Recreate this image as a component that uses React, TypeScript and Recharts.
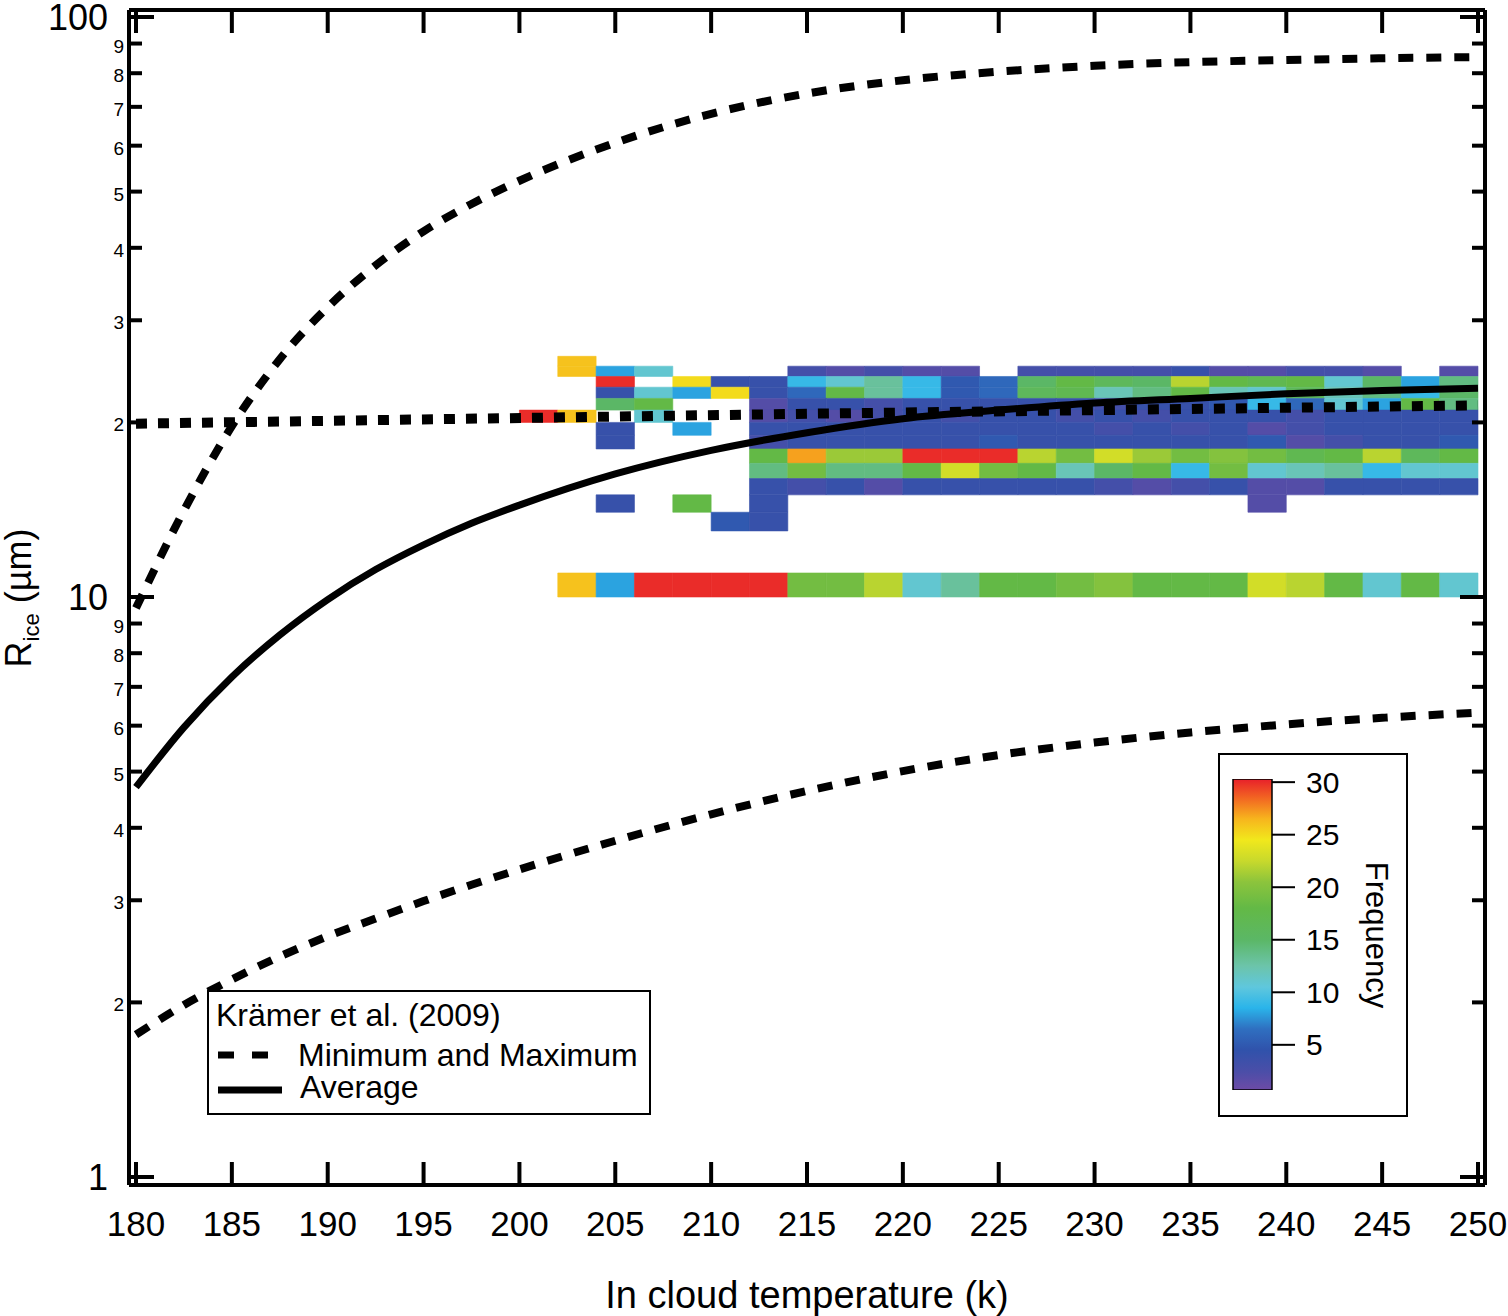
import React from "react";
import {
  ComposedChart,
  Line,
  XAxis,
  YAxis,
  ReferenceArea,
  BarChart,
  Bar,
} from "recharts";

const FONT = '"Liberation Sans", Arial, Helvetica, sans-serif';

// axis ticks
const xTicks = [180, 185, 190, 195, 200, 205, 210, 215, 220, 225, 230, 235, 240, 245, 250];
const yTicks = [1, 2, 3, 4, 5, 6, 7, 8, 9, 10, 20, 30, 40, 50, 60, 70, 80, 90, 100];
const freqTicks = [5, 10, 15, 20, 25, 30];

// Krämer et al. (2009) curves (K -> µm)
const curveTemps = [180, 182.5, 185, 187.5, 190, 192.5, 195, 197.5, 200, 205, 210, 215, 220, 225, 230, 235, 240, 245, 250];
const maxRadius = [9.57, 14.1, 19.7, 25.7, 31.6, 37.3, 42.7, 47.6, 52.2, 60.7, 68.1, 73.8, 77.8, 80.5, 82.4, 83.6, 84.3, 84.9, 85.3];
const minRadius = [1.76, 1.98, 2.19, 2.4, 2.6, 2.79, 2.99, 3.19, 3.39, 3.8, 4.22, 4.63, 5.01, 5.34, 5.61, 5.84, 6.03, 6.19, 6.32];
const avgRadius = [4.7, 5.96, 7.28, 8.6, 9.9, 11.15, 12.3, 13.4, 14.4, 16.3, 17.9, 19.2, 20.3, 21.0, 21.6, 22.0, 22.4, 22.7, 22.9];

// dotted line
const refTemps = [180, 215, 250];
const refRadius = [19.9, 20.7, 21.4];

// 2D histogram: temperature bin edges, one row per 1 µm radius bin
const tempEdges = [200, 202, 204, 206, 208, 210, 212, 214, 216, 218, 220, 222, 224, 226, 228, 230, 232, 234, 236, 238, 240, 242, 244, 246, 248, 250];
const n = null;
const row25 = [n, 26, n, n, n, n, n, n, n, n, n, n, n, n, n, n, n, n, n, n, n, n, n, n, n];
const row24 = [n, 26, 8, 11, n, n, n, 3, 2, 3, 2, 2, n, 3, 3, 3, 3, 4, 2, 2, 3, 3, 2, n, 2];
const row23 = [n, n, 30, n, 25, 4, 4, 9, 11, 13, 9, 5, 6, 15, 18, 16, 15, 22, 18, 17, 18, 11, 15, 8, 14];
const row22 = [n, n, 4, 11, 8, 25, 4, 6, 18, 13, 9, 5, 6, 16, 17, 12, 14, 18, 12, 11, 16, 12, 14, 9, 15];
const row21 = [n, n, 15, 18, n, n, 2, 4, 4, 3, 4, 4, 4, 4, 4, 3, 4, 4, 5, 9, 6, 11, 8, 18, 14];
const row20 = [30, 26, n, 11, n, n, 2, 3, 2, 3, 4, 3, 4, 4, 3, 4, 3, 4, 4, 4, 3, 4, 4, 4, 4];
const row19 = [n, n, 4, n, 8, n, 4, 4, 4, 4, 4, 4, 4, 4, 4, 3, 4, 3, 4, 2, 3, 4, 4, 4, 4];
const row18 = [n, n, 4, n, n, n, 3, 4, 4, 4, 4, 4, 5, 4, 4, 4, 4, 4, 4, 5, 2, 3, 4, 4, 5];
const row17 = [n, n, n, n, n, n, 18, 27, 21, 21, 30, 30, 30, 22, 19, 23, 21, 19, 20, 19, 17, 18, 22, 16, 18];
const row16 = [n, n, n, n, n, n, 14, 19, 14, 14, 18, 23, 19, 18, 12, 15, 18, 9, 19, 11, 12, 13, 9, 11, 11];
const row15 = [n, n, n, n, n, n, 4, 3, 4, 2, 4, 4, 4, 4, 4, 3, 2, 3, 4, 2, 2, 4, 4, 4, 4];
const row14 = [n, n, 4, n, 18, n, 4, n, n, n, n, n, n, n, n, n, n, n, n, 2, n, n, n, n, n];
const row13 = [n, n, n, n, n, 5, 4, n, n, n, n, n, n, n, n, n, n, n, n, n, n, n, n, n, n];
const row10 = [n, 26, 8, 30, 30, 30, 30, 19, 19, 22, 11, 13, 18, 18, 19, 20, 18, 18, 18, 23, 22, 18, 11, 18, 11];

const radiusRows = [
  { lo: 25, freq: row25 },
  { lo: 24, freq: row24 },
  { lo: 23, freq: row23 },
  { lo: 22, freq: row22 },
  { lo: 21, freq: row21 },
  { lo: 20, freq: row20 },
  { lo: 19, freq: row19 },
  { lo: 18, freq: row18 },
  { lo: 17, freq: row17 },
  { lo: 16, freq: row16 },
  { lo: 15, freq: row15 },
  { lo: 14, freq: row14 },
  { lo: 13, freq: row13 },
  { lo: 10, freq: row10 },
];

// colour bar range
const cbMin = 0.7;
const cbMax = 30.3;

// axis frame sits a few px outside the data range
const X_DOMAIN = [179.635, 250.365];
const Y_DOMAIN = [0.9687, 102.82];

const cmap: [number, string][] = [
  [0.7, "#6d4ba6"],
  [2.5, "#4a4ea8"],
  [4.5, "#3052ab"],
  [6.5, "#2f6fc0"],
  [8.5, "#2ab4ea"],
  [10.5, "#5fc7dd"],
  [12.5, "#6cc4aa"],
  [15, "#5bb766"],
  [18, "#63b946"],
  [20.5, "#8cc43c"],
  [22.5, "#c8d92c"],
  [24.5, "#f1e81c"],
  [26.5, "#f7b51d"],
  [28.5, "#f26522"],
  [30.3, "#e8202a"],
];

const hex = (h: string) => [1, 3, 5].map((i) => parseInt(h.slice(i, i + 2), 16));

const colorFor = (v: number) => {
  if (v <= cmap[0][0]) return cmap[0][1];
  for (let i = 1; i < cmap.length; i++) {
    const [v1, c1] = cmap[i];
    if (v <= v1) {
      const [v0, c0] = cmap[i - 1];
      const t = (v - v0) / (v1 - v0);
      const a = hex(c0);
      const b = hex(c1);
      const rgb = a.map((ch, k) => Math.round(ch + (b[k] - ch) * t));
      return `rgb(${rgb.join(",")})`;
    }
  }
  return cmap[cmap.length - 1][1];
};

const cells = radiusRows.flatMap((row) =>
  row.freq
    .map((f, i) =>
      f == null
        ? null
        : { x1: tempEdges[i], x2: tempEdges[i + 1], y1: row.lo, y2: row.lo + 1, f }
    )
    .filter(Boolean) as { x1: number; x2: number; y1: number; y2: number; f: number }[]
);

const toSeries = (temps: number[], vals: number[]) => temps.map((t, i) => ({ t, r: vals[i] }));
const maxData = toSeries(curveTemps, maxRadius);
const minData = toSeries(curveTemps, minRadius);
const avgData = toSeries(curveTemps, avgRadius);
const refData = toSeries(refTemps, refRadius);

const isDecade = (v: number) => Math.abs(Math.log10(v) - Math.round(Math.log10(v))) < 1e-6;
const mantissa = (v: number) => Math.round(v / Math.pow(10, Math.floor(Math.log10(v) + 1e-9)));

const BottomTick = (props: any) => {
  const { x, y, payload } = props;
  return (
    <g>
      <line x1={x} y1={y} x2={x} y2={y - 23} stroke="#000" strokeWidth={4} />
      <text x={x} y={y + 51} textAnchor="middle" fontSize={35} fontFamily={FONT} fill="#000">
        {payload.value}
      </text>
    </g>
  );
};

const TopTick = (props: any) => {
  const { x, y } = props;
  return <line x1={x} y1={y} x2={x} y2={y + 23} stroke="#000" strokeWidth={4} />;
};

const LeftTick = (props: any) => {
  const { x, y, payload } = props;
  const v = payload.value;
  const major = isDecade(v);
  return (
    <g>
      <line x1={x} y1={y} x2={x + (major ? 25 : 13)} y2={y} stroke="#000" strokeWidth={4} />
      {major ? (
        <text x={x - 21} y={y + 13} textAnchor="end" fontSize={36} fontFamily={FONT} fill="#000">
          {v}
        </text>
      ) : (
        <text x={x - 5} y={y + 9} textAnchor="end" fontSize={19} fontFamily={FONT} fill="#000">
          {mantissa(v)}
        </text>
      )}
    </g>
  );
};

const RightTick = (props: any) => {
  const { x, y, payload } = props;
  const major = isDecade(payload.value);
  return <line x1={x} y1={y} x2={x - (major ? 25 : 13)} y2={y} stroke="#000" strokeWidth={4} />;
};

const frame = { stroke: "#000", strokeWidth: 4 };

const ColorBar = () => {
  const data = [{ name: "freq", span: [cbMin, cbMax] }];
  return (
    <BarChart
      width={180}
      height={340}
      data={data}
      margin={{ top: 14, right: 0, bottom: 15, left: 13 }}
      barCategoryGap={0}
    >
      <defs>
        <linearGradient id="jet" x1="0" y1="1" x2="0" y2="0">
          {cmap.map(([v, c]) => (
            <stop key={v} offset={(v - cbMin) / (cbMax - cbMin)} stopColor={c} />
          ))}
        </linearGradient>
      </defs>
      <XAxis dataKey="name" hide />
      <YAxis
        orientation="right"
        type="number"
        domain={[cbMin, cbMax]}
        ticks={freqTicks}
        interval={0}
        allowDataOverflow
        width={128}
        axisLine={false}
        tickSize={23}
        tickMargin={11}
        tickLine={{ stroke: "#000", strokeWidth: 2 }}
        tick={{ fill: "#000", fontSize: 30, fontFamily: FONT }}
      />
      <Bar dataKey="span" fill="url(#jet)" stroke="#000" strokeWidth={1.5} isAnimationActive={false} />
    </BarChart>
  );
};

export default function App() {
  return (
    <div
      style={{
        position: "absolute",
        left: 0,
        top: 0,
        width: 1508,
        height: 1316,
        overflow: "hidden",
        background: "#fff",
        fontFamily: FONT,
      }}
    >
      <ComposedChart width={1508} height={1316} margin={{ top: 9, right: 22, bottom: 0, left: 0 }}>
        <XAxis
          xAxisId="b"
          dataKey="t"
          type="number"
          domain={X_DOMAIN}
          allowDataOverflow
          ticks={xTicks}
          interval={0}
          height={131}
          tickSize={0}
          tickMargin={0}
          axisLine={frame}
          tickLine={false}
          tick={<BottomTick />}
          label={{
            value: "In cloud temperature (k)",
            position: "insideBottom",
            offset: 8,
            fontSize: 38,
            fill: "#000",
            fontFamily: FONT,
          }}
        />
        <XAxis
          xAxisId="t"
          orientation="top"
          dataKey="t"
          type="number"
          domain={X_DOMAIN}
          allowDataOverflow
          ticks={xTicks}
          interval={0}
          height={1}
          tickSize={0}
          tickMargin={0}
          axisLine={frame}
          tickLine={false}
          tick={<TopTick />}
        />
        <YAxis
          yAxisId="l"
          type="number"
          scale="log"
          domain={Y_DOMAIN}
          allowDataOverflow
          ticks={yTicks}
          interval={0}
          width={129}
          tickSize={0}
          tickMargin={0}
          axisLine={frame}
          tickLine={false}
          tick={<LeftTick />}
        />
        <YAxis
          yAxisId="r"
          orientation="right"
          type="number"
          scale="log"
          domain={Y_DOMAIN}
          allowDataOverflow
          ticks={yTicks}
          interval={0}
          width={1}
          tickSize={0}
          tickMargin={0}
          axisLine={frame}
          tickLine={false}
          tick={<RightTick />}
        />
        {cells.map((c, i) => (
          <ReferenceArea
            key={i}
            xAxisId="b"
            yAxisId="l"
            x1={c.x1}
            x2={c.x2}
            y1={c.y1}
            y2={c.y2}
            fill={colorFor(c.f)}
            fillOpacity={1}
            stroke={colorFor(c.f)}
            strokeWidth={0.6}
          />
        ))}
        <Line
          xAxisId="b"
          yAxisId="l"
          data={refData}
          dataKey="r"
          type="linear"
          stroke="#000"
          strokeWidth={10}
          strokeDasharray="11 11"
          dot={false}
          isAnimationActive={false}
        />
        <Line
          xAxisId="b"
          yAxisId="l"
          data={maxData}
          dataKey="r"
          type="monotone"
          stroke="#000"
          strokeWidth={8}
          strokeDasharray="15 13"
          dot={false}
          isAnimationActive={false}
        />
        <Line
          xAxisId="b"
          yAxisId="l"
          data={minData}
          dataKey="r"
          type="monotone"
          stroke="#000"
          strokeWidth={8}
          strokeDasharray="15 13"
          dot={false}
          isAnimationActive={false}
        />
        <Line
          xAxisId="b"
          yAxisId="l"
          data={avgData}
          dataKey="r"
          type="monotone"
          stroke="#000"
          strokeWidth={7}
          dot={false}
          isAnimationActive={false}
        />
      </ComposedChart>

      {/* y axis title */}
      <div
        style={{
          position: "absolute",
          left: 22,
          top: 598,
          transform: "translate(-50%, -50%) rotate(-90deg)",
          fontSize: 36,
          lineHeight: 1,
          whiteSpace: "nowrap",
          color: "#000",
        }}
      >
        R<sub style={{ fontSize: 22, verticalAlign: "-0.35em" }}>ice</sub> (µm)
      </div>

      {/* legend */}
      <svg
        width={444}
        height={125}
        style={{ position: "absolute", left: 207, top: 990 }}
      >
        <rect x={1} y={1} width={442} height={123} fill="#fff" stroke="#000" strokeWidth={2} />
        <text x={9} y={36} fontSize={32} fontFamily={FONT} fill="#000">
          Krämer et al. (2009)
        </text>
        <line x1={11} y1={65} x2={61} y2={65} stroke="#000" strokeWidth={7} strokeDasharray="16 18" />
        <text x={91} y={76} fontSize={32} fontFamily={FONT} fill="#000">
          Minimum and Maximum
        </text>
        <line x1={11} y1={100} x2={75} y2={100} stroke="#000" strokeWidth={7} />
        <text x={93} y={108} fontSize={32} fontFamily={FONT} fill="#000">
          Average
        </text>
      </svg>

      {/* colour bar */}
      <div
        style={{
          position: "absolute",
          left: 1218,
          top: 753,
          width: 190,
          height: 364,
          border: "2px solid #000",
          boxSizing: "border-box",
          background: "#fff",
        }}
      />
      <div style={{ position: "absolute", left: 1220, top: 765 }}>
        <ColorBar />
      </div>
      <div
        style={{
          position: "absolute",
          left: 1376,
          top: 935,
          transform: "translate(-50%, -50%) rotate(90deg)",
          fontSize: 31,
          lineHeight: 1,
          whiteSpace: "nowrap",
          color: "#000",
        }}
      >
        Frequency
      </div>
    </div>
  );
}
